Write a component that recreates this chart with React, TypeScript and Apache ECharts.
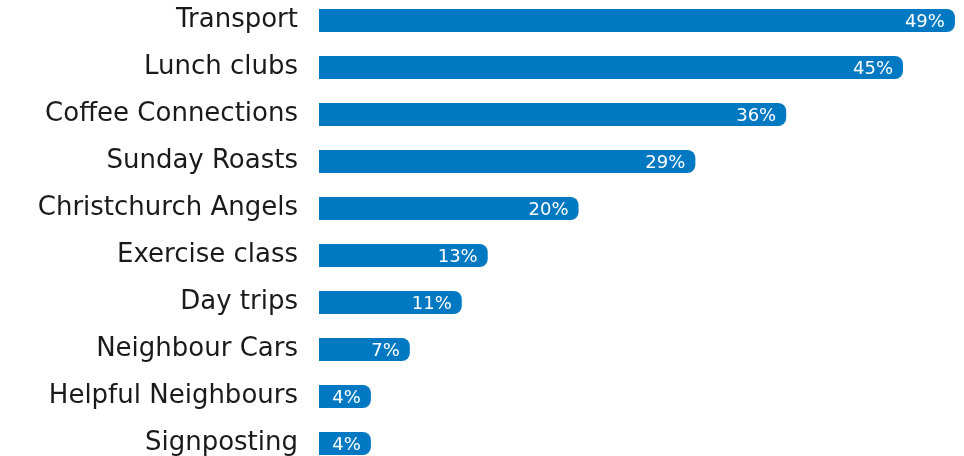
import React, { useEffect, useRef } from "react";
import * as echarts from "echarts";

const categories = [
  "Transport",
  "Lunch clubs",
  "Coffee Connections",
  "Sunday Roasts",
  "Christchurch Angels",
  "Exercise class",
  "Day trips",
  "Neighbour Cars",
  "Helpful Neighbours",
  "Signposting",
];
const values = [49, 45, 36, 29, 20, 13, 11, 7, 4, 4];

export default function App() {
  const ref = useRef<HTMLDivElement>(null);
  useEffect(() => {
    if (!ref.current) return;
    const chart = echarts.init(ref.current, null, { renderer: "svg" });
    chart.setOption({
      animation: false,
      grid: { left: 319, right: 0, top: 20.5, bottom: 12.5, containLabel: false },
      xAxis: {
        type: "value",
        min: 0,
        max: 49.7,
        show: false,
      },
      yAxis: {
        type: "category",
        data: categories,
        inverse: true,
        boundaryGap: false,
        axisLine: { show: false },
        axisTick: { show: false },
        axisLabel: {
          margin: 21,
          fontSize: 26,
          lineHeight: 6,
          verticalAlign: "bottom",
          color: "#1a1a1a",
          fontFamily: "DejaVu Sans",
        },
      },
      series: [
        {
          type: "bar",
          data: values,
          barWidth: 23,
          itemStyle: { color: "#0079C2", borderRadius: [0, 8, 8, 0] },
          label: {
            show: true,
            position: "insideRight",
            distance: 10,
            formatter: "{c}%",
            color: "#ffffff",
            fontSize: 18,
            fontFamily: "DejaVu Sans",
          },
        },
      ],
    });
    return () => chart.dispose();
  }, []);
  return (
    <div
      ref={ref}
      style={{ position: "fixed", left: 0, top: 0, width: 964, height: 456 }}
    />
  );
}
